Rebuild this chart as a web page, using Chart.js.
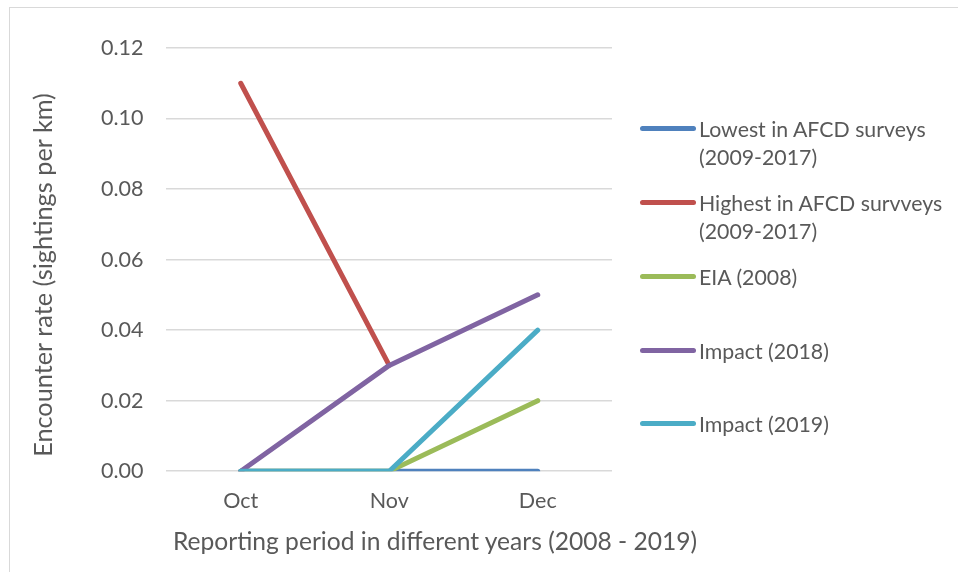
<!DOCTYPE html>
<html>
<head>
<meta charset="utf-8">
<script src="https://cdn.jsdelivr.net/npm/chart.js@4"></script>
<style>
  body { margin: 0; background: #fff; }
  #wrap { position: relative; width: 958px; height: 572px; overflow: hidden; }
  #frame { position: absolute; left: 9px; top: 7px; right: -5px; bottom: -5px;
           border-top: 1px solid #d9d9d9; border-left: 1px solid #d9d9d9; }
  #legend { position: absolute; left: 640px; top: 0; font-family: Lato, sans-serif;
            font-size: 21.3px; color: #595959; line-height: 28px; }
  .item { position: absolute; left: 0; white-space: nowrap; }
  .mark { position: absolute; left: 0; top: 11px; width: 56px; height: 5px; border-radius: 3px; }
  .txt { position: absolute; left: 59px; top: 0; }
  .axis-title { position: absolute; font-family: Lato, sans-serif; color: #595959;
                white-space: nowrap; line-height: 30px; }
  #xTitle { left: 435px; top: 541px; font-size: 24.6px; transform: translate(-50%, -50%); }
  #yTitle { left: 42px; top: 275px; font-size: 25.3px; transform: translate(-50%, -50%) rotate(-90deg); }
</style>
</head>
<body>
<div id="wrap">
  <div id="frame"></div>
  <canvas id="myChart" width="958" height="572"></canvas>
  <div id="legend"></div>
  <div class="axis-title" id="xTitle"></div>
  <div class="axis-title" id="yTitle"></div>
</div>
<script>
const months = ['Oct', 'Nov', 'Dec'];
const lowestAfcd = [0, 0, 0];
const highestAfcd = [0.11, 0.03, null];
const eia2008 = [0, 0, 0.02];
const impact2018 = [0, 0.03, 0.05];
const impact2019 = [0, 0, 0.04];

const seriesNames = [
    ['Lowest in AFCD surveys', '(2009-2017)'],
    ['Highest in AFCD survveys', '(2009-2017)'],
    ['EIA (2008)'],
    ['Impact (2018)'],
    ['Impact (2019)']
];
const seriesData = [lowestAfcd, highestAfcd, eia2008, impact2018, impact2019];
const colors = ['#4F81BD', '#C0504D', '#9BBB59', '#8064A2', '#4BACC6'];

const xTitleText = 'Reporting period in different years (2008 - 2019)';
const yTitleText = 'Encounter rate (sightings per km)';

const textColor = '#595959';

const ctx = document.getElementById('myChart').getContext('2d');
const chart = new Chart(ctx, {
    type: 'line',
    data: {
        labels: months,
        datasets: seriesData.map((d, i) => ({
            label: seriesNames[i].join(' '),
            data: d,
            borderColor: colors[i],
            backgroundColor: colors[i],
            borderWidth: 5,
            borderCapStyle: 'round',
            borderJoinStyle: 'round',
            pointRadius: 0,
            tension: 0,
            order: seriesData.length - i
        }))
    },
    options: {
        responsive: false,
        animation: false,
        devicePixelRatio: 1,
        layout: { padding: { left: 78, top: 48, right: 346, bottom: 49 } },
        plugins: {
            legend: { display: false },
            tooltip: { enabled: false }
        },
        scales: {
            x: {
                offset: true,
                grid: { display: false },
                border: { display: false },
                ticks: { color: textColor, font: { family: 'Lato', size: 21.5 }, padding: 9 }
            },
            y: {
                min: 0,
                max: 0.12,
                grid: { color: '#d9d9d9', lineWidth: 1.5, drawTicks: false },
                border: { display: false },
                ticks: {
                    stepSize: 0.02,
                    color: textColor,
                    font: { family: 'Lato', size: 21.5 },
                    padding: 23,
                    callback: v => v.toFixed(2)
                }
            }
        }
    }
});

// axis titles and legend as HTML, placed the way the source chart has them
document.getElementById('xTitle').textContent = xTitleText;
document.getElementById('yTitle').textContent = yTitleText;

const legend = document.getElementById('legend');
const legendTops = [129, 203, 277, 351, 424];
seriesNames.forEach((name, i) => {
    const item = document.createElement('div');
    item.className = 'item';
    item.style.top = (legendTops[i] - 14) + 'px';
    const mark = document.createElement('div');
    mark.className = 'mark';
    mark.style.background = colors[i];
    const txt = document.createElement('div');
    txt.className = 'txt';
    txt.innerHTML = name.join('<br>');
    item.appendChild(mark);
    item.appendChild(txt);
    legend.appendChild(item);
});
</script>
</body>
</html>
